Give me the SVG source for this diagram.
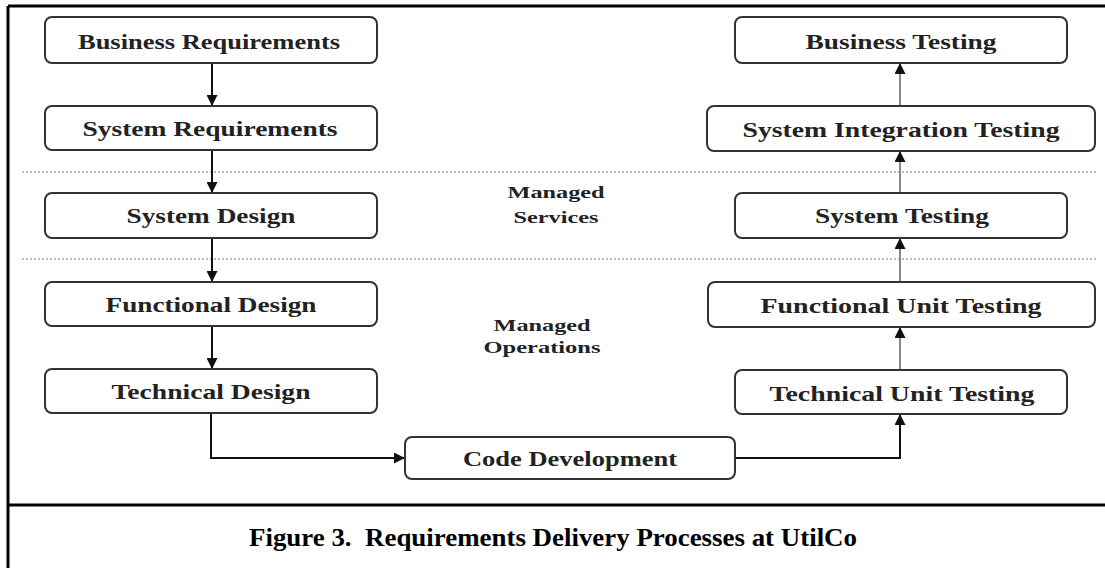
<svg xmlns="http://www.w3.org/2000/svg" width="1105" height="568" viewBox="0 0 1105 568">
<defs>
<marker id="ah" viewBox="0 0 10 10" refX="10" refY="5" markerWidth="11" markerHeight="11" markerUnits="userSpaceOnUse" orient="auto">
<path d="M0,0 L10,5 L0,10 Z" fill="#111"/>
</marker>
</defs>
<style>
.box{fill:#fff;stroke:#333;stroke-width:2}
.lbl{font-family:"Liberation Serif",serif;font-weight:bold;font-size:21px;fill:#222;text-anchor:middle}
.zone{font-family:"Liberation Serif",serif;font-weight:bold;font-size:17px;fill:#222;text-anchor:middle}
.dn{stroke:#111;stroke-width:2;fill:none}
.up{stroke:#888;stroke-width:2;fill:none}
.dot{stroke:#777;stroke-width:1.2;stroke-dasharray:2 2;fill:none}
.frame{stroke:#000;stroke-width:3;fill:none}
.cap{font-family:"Liberation Serif",serif;font-weight:bold;font-size:25px;fill:#000;text-anchor:middle}
</style>
<rect width="1105" height="568" fill="#fff"/>
<g id="frame">
<line class="frame" x1="8" y1="6" x2="1105" y2="6"/>
<line class="frame" x1="8" y1="6" x2="8" y2="568"/>
<line class="frame" x1="8" y1="505" x2="1105" y2="505"/>
</g>
<g id="zones">
<line class="dot" x1="22" y1="172" x2="1097" y2="172"/>
<line class="dot" x1="22" y1="259" x2="1097" y2="259"/>
<text class="zone" x="556" y="198" textLength="97" lengthAdjust="spacingAndGlyphs">Managed</text>
<text class="zone" x="556" y="223" textLength="85" lengthAdjust="spacingAndGlyphs">Services</text>
<text class="zone" x="542" y="331" textLength="97" lengthAdjust="spacingAndGlyphs">Managed</text>
<text class="zone" x="542" y="353" textLength="117" lengthAdjust="spacingAndGlyphs">Operations</text>
</g>
<g id="connectors">
<line class="dn" x1="212" y1="63" x2="212" y2="106" marker-end="url(#ah)"/>
<line class="dn" x1="212" y1="150" x2="212" y2="193" marker-end="url(#ah)"/>
<line class="dn" x1="212" y1="238" x2="212" y2="282" marker-end="url(#ah)"/>
<line class="dn" x1="212" y1="326" x2="212" y2="369" marker-end="url(#ah)"/>
<polyline class="dn" points="211,413 211,458 405,458" marker-end="url(#ah)"/>
<polyline class="dn" points="735,458 900,458 900,414" marker-end="url(#ah)"/>
<line class="up" x1="900" y1="370" x2="900" y2="327" marker-end="url(#ah)"/>
<line class="up" x1="900" y1="282" x2="900" y2="238" marker-end="url(#ah)"/>
<line class="up" x1="900" y1="193" x2="900" y2="151" marker-end="url(#ah)"/>
<line class="up" x1="900" y1="106" x2="900" y2="63" marker-end="url(#ah)"/>
</g>
<g id="business-requirements"><rect class="box" x="45" y="17" width="332" height="46" rx="7"/><text class="lbl" x="209" y="49" textLength="262" lengthAdjust="spacingAndGlyphs">Business Requirements</text></g>
<g id="system-requirements"><rect class="box" x="45" y="106" width="332" height="44" rx="7"/><text class="lbl" x="210" y="136" textLength="255" lengthAdjust="spacingAndGlyphs">System Requirements</text></g>
<g id="system-design"><rect class="box" x="45" y="193" width="332" height="45" rx="7"/><text class="lbl" x="211" y="223" textLength="169" lengthAdjust="spacingAndGlyphs">System Design</text></g>
<g id="functional-design"><rect class="box" x="45" y="282" width="332" height="44" rx="7"/><text class="lbl" x="211" y="312" textLength="211" lengthAdjust="spacingAndGlyphs">Functional Design</text></g>
<g id="technical-design"><rect class="box" x="45" y="369" width="332" height="44" rx="7"/><text class="lbl" x="211" y="399" textLength="199" lengthAdjust="spacingAndGlyphs">Technical Design</text></g>
<g id="code-development"><rect class="box" x="405" y="437" width="330" height="42" rx="7"/><text class="lbl" x="570" y="466" textLength="214" lengthAdjust="spacingAndGlyphs">Code Development</text></g>
<g id="technical-unit-testing"><rect class="box" x="735" y="370" width="332" height="44" rx="7"/><text class="lbl" x="902" y="401" textLength="265" lengthAdjust="spacingAndGlyphs">Technical Unit Testing</text></g>
<g id="functional-unit-testing"><rect class="box" x="708" y="282" width="387" height="45" rx="7"/><text class="lbl" x="901" y="313" textLength="281" lengthAdjust="spacingAndGlyphs">Functional Unit Testing</text></g>
<g id="system-testing"><rect class="box" x="735" y="193" width="332" height="45" rx="7"/><text class="lbl" x="902" y="223" textLength="174" lengthAdjust="spacingAndGlyphs">System Testing</text></g>
<g id="system-integration-testing"><rect class="box" x="707" y="106" width="388" height="45" rx="7"/><text class="lbl" x="901" y="137" textLength="317" lengthAdjust="spacingAndGlyphs">System Integration Testing</text></g>
<g id="business-testing"><rect class="box" x="735" y="17" width="332" height="46" rx="7"/><text class="lbl" x="901" y="49" textLength="191" lengthAdjust="spacingAndGlyphs">Business Testing</text></g>
<g id="caption"><text class="cap" x="553" y="546" textLength="608" lengthAdjust="spacingAndGlyphs">Figure 3.&#160; Requirements Delivery Processes at UtilCo</text></g>
</svg>
